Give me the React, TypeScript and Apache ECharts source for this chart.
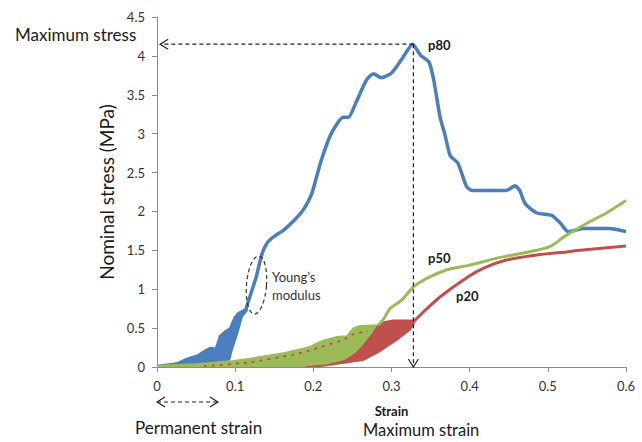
import React, { useEffect, useRef } from "react";
import * as echarts from "echarts";

// ---- data (strain, nominal stress MPa) ----
const p80Band: number[][] = [
  [0.0, 0.02], [0.025, 0.05], [0.038, 0.11], [0.051, 0.15], [0.062, 0.22], [0.068, 0.25],
  [0.075, 0.24], [0.08, 0.4], [0.087, 0.46], [0.093, 0.5], [0.099, 0.64], [0.104, 0.7],
  [0.11, 0.73], [0.115, 0.75], [0.115, 0.72], [0.109, 0.65], [0.103, 0.43], [0.096, 0.22],
  [0.093, 0.1], [0.085, 0.05], [0.06, 0.02], [0.04, 0.0], [0.0, 0.0],
];
const p80Curve: number[][] = [
  [0.113, 0.72], [0.118, 0.88], [0.127, 1.16], [0.132, 1.37], [0.136, 1.5], [0.142, 1.61],
  [0.15, 1.68], [0.162, 1.76], [0.175, 1.88], [0.187, 2.02], [0.198, 2.23], [0.209, 2.62],
  [0.221, 2.96], [0.23, 3.12], [0.238, 3.21], [0.245, 3.21], [0.255, 3.41], [0.268, 3.69],
  [0.277, 3.77], [0.287, 3.72], [0.3, 3.78], [0.314, 3.97], [0.327, 4.15], [0.337, 4.01],
  [0.348, 3.92], [0.354, 3.69], [0.362, 3.22], [0.368, 3.0], [0.375, 2.72], [0.385, 2.62],
  [0.396, 2.32], [0.403, 2.27], [0.422, 2.27], [0.447, 2.27], [0.458, 2.33], [0.464, 2.27],
  [0.471, 2.1], [0.486, 1.98], [0.505, 1.95], [0.516, 1.85], [0.526, 1.74], [0.545, 1.78],
  [0.579, 1.78], [0.6, 1.74],
];
const p50Band: number[][] = [
  [0.0, 0.02], [0.05, 0.04], [0.098, 0.08], [0.119, 0.11], [0.162, 0.18], [0.196, 0.26],
  [0.209, 0.33], [0.23, 0.39], [0.243, 0.4], [0.251, 0.5], [0.26, 0.53], [0.283, 0.54],
  [0.285, 0.2], [0.264, 0.09], [0.22, 0.02], [0.2, 0.0], [0.0, 0.0],
];
const p50Curve: number[][] = [
  [0.283, 0.54], [0.29, 0.62], [0.298, 0.75], [0.313, 0.86], [0.328, 1.03], [0.338, 1.1],
  [0.349, 1.16], [0.371, 1.25], [0.4, 1.31], [0.435, 1.4], [0.486, 1.5], [0.505, 1.56],
  [0.52, 1.67], [0.554, 1.87], [0.575, 1.98], [0.6, 2.14],
];
const p20Band: number[][] = [
  [0.19, 0.0], [0.221, 0.03], [0.264, 0.09], [0.285, 0.2], [0.307, 0.35], [0.324, 0.48],
  [0.33, 0.58], [0.33, 0.6], [0.315, 0.6], [0.302, 0.6], [0.29, 0.58], [0.282, 0.52],
  [0.275, 0.42], [0.266, 0.3], [0.255, 0.18], [0.24, 0.08], [0.215, 0.02], [0.2, 0.0],
];
const p20Streaks: number[][] = [
  [0.06, 0.01], [0.119, 0.06], [0.174, 0.16], [0.191, 0.2], [0.238, 0.35], [0.251, 0.42], [0.27, 0.46],
];
const p20Curve: number[][] = [
  [0.33, 0.6], [0.341, 0.71], [0.362, 0.9], [0.392, 1.12], [0.418, 1.27], [0.447, 1.375],
  [0.486, 1.44], [0.524, 1.48], [0.541, 1.5], [0.6, 1.555],
];
const peak: number[] = [0.328, 4.15];
const permanentStrain: number[] = [0, 0.078];
const youngsCenter: number[] = [0.1273, 1.054];

const BLUE = "#4a7ebf";
const GREEN = "#9bbb59";
const RED = "#c0504d";
const FONT = "Lato, 'Noto Sans', sans-serif";

function bandSeries(name: string, pts: number[][], color: string) {
  return {
    type: "custom",
    name,
    coordinateSystem: "cartesian2d",
    data: pts,
    encode: { x: 0, y: 1 },
    clip: true,
    silent: true,
    renderItem: (params: any, api: any) => {
      if (params.dataIndex !== 0) return null;
      return {
        type: "polygon",
        shape: { points: pts.map((p) => api.coord(p)) },
        style: { fill: color, stroke: color, lineWidth: 1.5 },
      };
    },
  };
}

function lineSeries(name: string, data: number[][], color: string, width: number, dashed = false) {
  return {
    type: "line",
    name,
    data,
    showSymbol: false,
    smooth: 0.2,
    silent: true,
    lineStyle: { color, width, type: dashed ? [3, 5] : "solid" },
  };
}

function label(text: string, x: number, y: number, size: number, bold = false, fill = "#1a1a1a") {
  return {
    type: "text",
    x,
    y,
    style: {
      text,
      fontFamily: FONT,
      fontSize: size,
      fontWeight: bold ? "bold" : "normal",
      fill,
      textVerticalAlign: "middle",
      verticalAlign: "middle",
    },
  };
}

export default function App() {
  const ref = useRef<HTMLDivElement>(null);
  useEffect(() => {
    const chart = echarts.init(ref.current!, null, { renderer: "svg" });
    const dash = { stroke: "#222", lineWidth: 1.2, lineDash: [4, 3], fill: null };
    const solid = { stroke: "#222", lineWidth: 1.2, fill: null };
    chart.setOption({
      animation: false,
      grid: { left: 157, right: 16, top: 17, bottom: 75, containLabel: false },
      xAxis: {
        type: "value",
        min: 0,
        max: 0.6,
        interval: 0.1,
        name: "Strain",
        nameLocation: "middle",
        nameGap: 37,
        nameTextStyle: { fontFamily: FONT, fontSize: 13, fontWeight: "bold", color: "#1a1a1a" },
        axisLine: { show: true, lineStyle: { color: "#8c8c8c", width: 1 } },
        axisTick: { show: true, length: 5, lineStyle: { color: "#8c8c8c" } },
        axisLabel: { fontFamily: FONT, fontSize: 13, color: "#333", margin: 12 },
        splitLine: { show: false },
      },
      yAxis: {
        type: "value",
        min: 0,
        max: 4.5,
        interval: 0.5,
        name: "Nominal stress (MPa)",
        nameLocation: "middle",
        nameGap: 40,
        nameTextStyle: { fontFamily: FONT, fontSize: 19, color: "#1a1a1a" },
        axisLine: { show: true, lineStyle: { color: "#8c8c8c", width: 1 } },
        axisTick: { show: true, length: 5, lineStyle: { color: "#8c8c8c" } },
        axisLabel: { fontFamily: FONT, fontSize: 13, color: "#333", margin: 12 },
        splitLine: { show: false },
      },
      series: [
        bandSeries("p80 cycles", p80Band, BLUE),
        lineSeries("p80", p80Curve, BLUE, 3.5),
        bandSeries("p50 cycles", p50Band, GREEN),
        lineSeries("p50", p50Curve, GREEN, 3),
        bandSeries("p20 cycles", p20Band, RED),
        lineSeries("p20 streaks", p20Streaks, RED, 1.8, true),
        lineSeries("p20", p20Curve, RED, 3),
        {
          type: "custom",
          name: "annotations",
          coordinateSystem: "cartesian2d",
          data: [peak],
          encode: { x: 0, y: 1 },
          clip: false,
          silent: true,
          z: 10,
          renderItem: (params: any, api: any) => {
            const pk = api.coord(peak);
            const lf = api.coord([0.004, peak[1]]);
            const bt = api.coord([peak[0], 0]);
            const a = api.coord([permanentStrain[0], 0]);
            const b = api.coord([permanentStrain[1], 0]);
            const yy = a[1] + 35;
            const c = api.coord(youngsCenter);
            const ell: number[][] = [];
            for (let i = 0; i < 48; i++) {
              const t = (i / 48) * Math.PI * 2;
              ell.push([10 * Math.cos(t), 29 * Math.sin(t)]);
            }
            return {
              type: "group",
              children: [
                { type: "line", shape: { x1: pk[0], y1: pk[1], x2: lf[0], y2: lf[1] }, style: dash },
                { type: "polyline", shape: { points: [[lf[0] + 8, lf[1] - 5], lf, [lf[0] + 8, lf[1] + 5]] }, style: solid },
                { type: "line", shape: { x1: pk[0], y1: pk[1], x2: bt[0], y2: bt[1] }, style: dash },
                { type: "polyline", shape: { points: [[bt[0] - 5, bt[1] - 8], bt, [bt[0] + 5, bt[1] - 8]] }, style: solid },
                { type: "line", shape: { x1: a[0], y1: yy, x2: b[0], y2: yy }, style: dash },
                { type: "polyline", shape: { points: [[a[0] + 8, yy - 5], [a[0], yy], [a[0] + 8, yy + 5]] }, style: solid },
                { type: "polyline", shape: { points: [[b[0] - 8, yy - 5], [b[0], yy], [b[0] - 8, yy + 5]] }, style: solid },
                {
                  type: "polygon",
                  x: c[0],
                  y: c[1],
                  rotation: -0.08,
                  shape: { points: ell },
                  style: { stroke: "#333", lineWidth: 1.2, lineDash: [4, 3], fill: null },
                },
              ],
            };
          },
        },
      ],
      graphic: [
        label("Maximum stress", 15, 34, 17),
        label("p80", 428, 45, 13, true),
        label("p50", 428, 258, 13, true),
        label("p20", 456, 296, 13, true),
        label("Young\u2019s", 272, 277, 13, false, "#333"),
        label("modulus", 272, 295, 13, false, "#333"),
        label("Permanent strain", 135, 427, 17),
        label("Maximum strain", 363, 430, 16.5),
      ],
    });
    return () => chart.dispose();
  }, []);
  return (
    <div
      ref={ref}
      style={{ position: "fixed", left: 0, top: 0, width: 642, height: 442, background: "#fff" }}
    />
  );
}
